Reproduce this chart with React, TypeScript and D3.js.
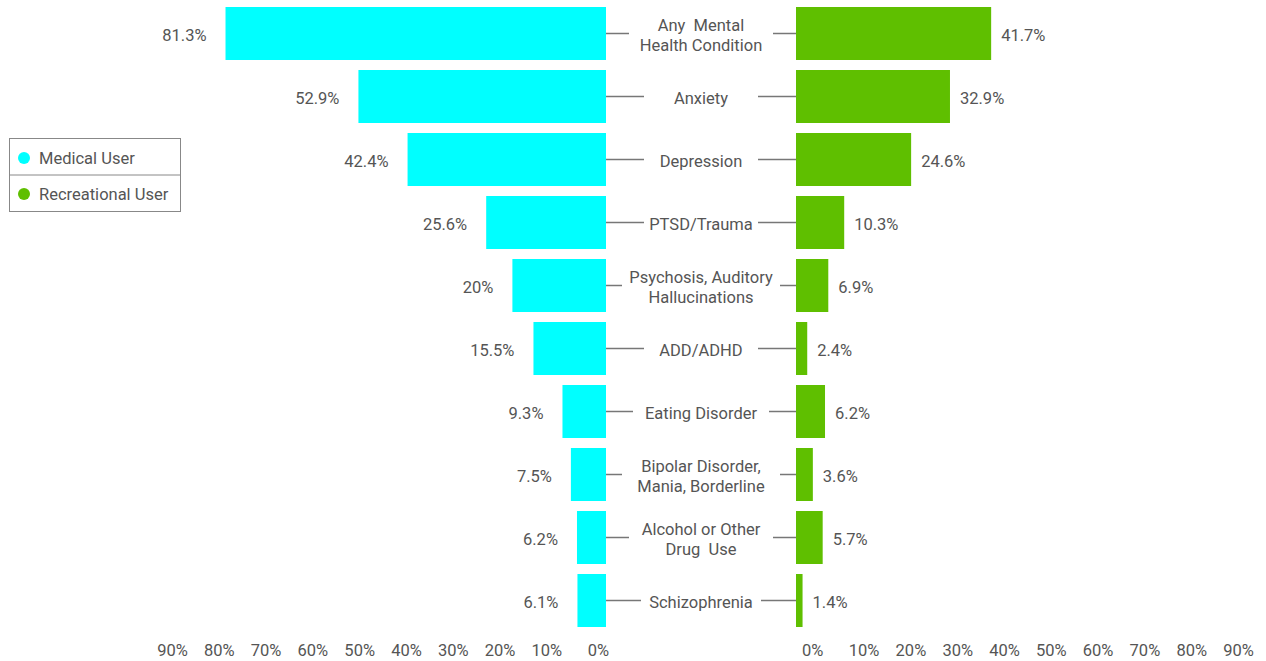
import React from "react";
import * as d3 from "d3";

const categories: string[][] = [
  ["Any  Mental", "Health Condition"],
  ["Anxiety"],
  ["Depression"],
  ["PTSD/Trauma"],
  ["Psychosis, Auditory", "Hallucinations"],
  ["ADD/ADHD"],
  ["Eating Disorder"],
  ["Bipolar Disorder,", "Mania, Borderline"],
  ["Alcohol or Other", "Drug  Use"],
  ["Schizophrenia"],
];
const medicalValues = [81.3, 52.9, 42.4, 25.6, 20, 15.5, 9.3, 7.5, 6.2, 6.1];
const recreationalValues = [41.7, 32.9, 24.6, 10.3, 6.9, 2.4, 6.2, 3.6, 5.7, 1.4];
const tickValues = [0, 10, 20, 30, 40, 50, 60, 70, 80, 90];
const seriesNames = ["Medical User", "Recreational User"];

const CYAN = "#00FFFF";
const GREEN = "#5FBF00";
const TEXT = "#555";
const FONT = "Roboto, 'Noto Sans', sans-serif";
const FS = 16.5;

function textWidth(s: string): number {
  return s.length * 8.0;
}

export default function App() {
  const W = 1266;
  const H = 661;
  const keys = categories.map((c, i) => String(i));
  const y = d3.scaleBand<string>().domain(keys).range([2, 632]).paddingInner(10 / 63).paddingOuter(5 / 63);
  const xL = d3.scaleLinear().domain([0, 90]).range([606, 606 - 421.2]);
  const xR = d3.scaleLinear().domain([0, 90]).range([796, 796 + 421.2]);
  const fmt = (v: number) => `${v}%`;
  const cx = (xL(0) + xR(0)) / 2;
  const gapW = xR(0) - xL(0);

  return (
    <div style={{ position: "absolute", left: 0, top: 0 }}>
      <svg width={W} height={H} style={{ fontFamily: FONT, display: "block" }}>
        <rect x={0} y={0} width={W} height={H} fill="#fff" />
        {keys.map((k, i) => {
          const y0 = y(k)!;
          const bw = y.bandwidth();
          const mid = y0 + bw / 2;
          const lines = categories[i];
          const maxW = Math.max(...lines.map(textWidth));
          const room = (gapW - maxW) / 2;
          const len = room > 44 ? 38 : room > 30 ? Math.max(16, room - 8) : 16;
          const lh = 19.5;
          return (
            <g key={k}>
              <rect x={xL(medicalValues[i])} y={y0} width={xL(0) - xL(medicalValues[i])} height={bw} fill={CYAN} />
              <rect x={xR(0)} y={y0} width={xR(recreationalValues[i]) - xR(0)} height={bw} fill={GREEN} />
              <text x={xL(medicalValues[i]) - 19} y={mid + 3} textAnchor="end" dominantBaseline="middle" fontSize={FS} fill={TEXT}>
                {fmt(medicalValues[i])}
              </text>
              <text x={xR(recreationalValues[i]) + 10} y={mid + 3} textAnchor="start" dominantBaseline="middle" fontSize={FS} fill={TEXT}>
                {fmt(recreationalValues[i])}
              </text>
              <line x1={xL(0)} x2={xL(0) + len} y1={mid} y2={mid} stroke="#777" strokeWidth={1.5} />
              <line x1={xR(0) - len} x2={xR(0)} y1={mid} y2={mid} stroke="#777" strokeWidth={1.5} />
              {lines.map((ln, j) => (
                <text
                  key={j}
                  x={cx}
                  y={mid + 3 + (j - (lines.length - 1) / 2) * lh}
                  textAnchor="middle"
                  dominantBaseline="middle"
                  fontSize={FS}
                  fill={TEXT}
                  style={{ whiteSpace: "pre" }}
                >
                  {ln}
                </text>
              ))}
            </g>
          );
        })}
        {tickValues.map((t) => (
          <text key={"l" + t} x={xL(t) + 3} y={652} textAnchor="end" dominantBaseline="middle" fontSize={FS} fill={TEXT}>
            {fmt(t)}
          </text>
        ))}
        {tickValues.map((t) => (
          <text key={"r" + t} x={xR(t) + 6} y={652} textAnchor="start" dominantBaseline="middle" fontSize={FS} fill={TEXT}>
            {fmt(t)}
          </text>
        ))}
        <g>
          <rect x={9.5} y={138.5} width={171} height={73} fill="#fff" stroke="#888" strokeWidth={1} />
          <line x1={9.5} x2={180.5} y1={175} y2={175} stroke="#888" strokeWidth={1} />
          {seriesNames.map((s, i) => (
            <g key={s}>
              <circle cx={24} cy={158 + i * 36} r={6} fill={i === 0 ? CYAN : GREEN} />
              <text x={39} y={158 + i * 36 + 2} dominantBaseline="middle" fontSize={FS} fill={TEXT}>
                {s}
              </text>
            </g>
          ))}
        </g>
      </svg>
    </div>
  );
}
